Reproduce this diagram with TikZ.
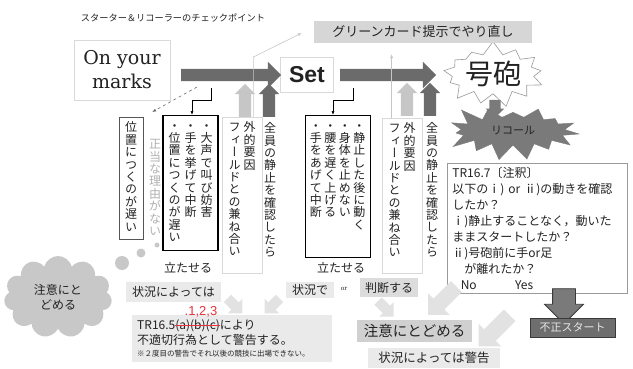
\documentclass[tikz,border=0pt]{standalone}
\usepackage{fontspec}
\usepackage{graphicx}
\setmainfont{Noto Sans CJK JP}
\newfontfamily\vjp[RawFeature=+vert]{Noto Sans CJK JP}
\newfontfamily\slab{DejaVu Serif}
\newfontfamily\helv{Liberation Sans}
\usepackage{xcolor}
\definecolor{ArrowDark}{HTML}{6B6B6B}
\definecolor{ArrowLight}{HTML}{C6C6C6}
\definecolor{PaleArrow}{HTML}{E2E2E2}
\definecolor{BorderLight}{HTML}{D9D9D9}
\definecolor{BorderMid}{HTML}{9A9A9A}
\definecolor{BorderDark}{HTML}{555555}
\definecolor{CardGray}{HTML}{D6D6D6}
\definecolor{NoteGray}{HTML}{EAEAEA}
\definecolor{JudgeGray}{HTML}{DCDCDC}
\definecolor{CautionGray}{HTML}{D0D0D0}
\definecolor{RecallGray}{HTML}{7A7A7A}
\definecolor{CloudGray}{HTML}{C8C8C8}
\definecolor{FoulGray}{HTML}{6E6E6E}
\definecolor{FoulEdge}{HTML}{3A3A3A}
\definecolor{FoulText}{HTML}{E6E6E6}
\definecolor{ReasonGray}{HTML}{B0B0B0}
\definecolor{InkBlack}{HTML}{222222}
\definecolor{MarkRed}{HTML}{E5323B}
\usepackage{tikz}
\usetikzlibrary{shapes.symbols, shapes.arrows, arrows.meta, calc}

% one character per line, for the upright columns
\newcommand\vt[1]{\vtop{\vjp\baselineskip=12.4pt\lineskiplimit=-20pt\lineskip=0pt\vtloop#1\relax}}
\def\vtloop#1{\ifx\relax#1\else\hbox to 12pt{\hss#1\hss}\expandafter\vtloop\fi}
\newcommand\redstrike[1]{\setbox0=\hbox{#1}\copy0\llap{\textcolor{MarkRed}{\rule[0.3em]{\wd0}{1.1pt}}}}

\begin{document}
\begin{tikzpicture}[x=1pt, y=-1pt,
  stagebox/.style={rectangle, draw=BorderLight, line width=0.8pt, fill=white, text=InkBlack},
  fatarrow/.style={single arrow, fill=ArrowDark, inner xsep=0pt, inner ysep=6pt,
                   single arrow head extend=7pt},
  risearrow/.style={single arrow, rotate=90, inner xsep=0pt, inner ysep=6pt,
                    minimum height=33pt, single arrow head extend=4pt},
  palearrow/.style={single arrow, fill=PaleArrow, inner xsep=0pt},
  colbox/.style={rectangle, anchor=north, line width=0.8pt, fill=white, text=InkBlack,
                 inner ysep=4pt, text height=10.5pt, font=\fontsize{12}{12}\selectfont},
  coltext/.style={anchor=north, inner sep=0pt, text height=10.5pt,
                  font=\fontsize{12}{12}\selectfont},
  tagbox/.style={rectangle, inner xsep=6pt, inner ysep=4pt, text=InkBlack,
                 font=\fontsize{12}{12}\selectfont},
  plaintext/.style={inner sep=0pt, text=InkBlack, font=\fontsize{12}{12}\selectfont},
  cardlink/.style={draw=ArrowLight, line width=0.6pt, -{Latex[length=4pt, width=3pt]}},
  bendlink/.style={draw=black, line width=0.7pt, -{Latex[length=4pt, width=3pt]}},
  dashlink/.style={draw=ArrowDark, line width=0.6pt, dashed, -{Latex[length=4pt, width=3pt]}},
]
\useasboundingbox (0,0) rectangle (633,368);

\node[plaintext, font=\fontsize{9.2}{10}\selectfont] (title) at (173,18)
  {スターター＆リコーラーのチェックポイント};

% stages
\node[stagebox, minimum width=96pt, minimum height=60pt, align=center,
      font=\slab\fontsize{19}{24}\selectfont] (marks) at (122,70) {On your\\marks};
\node[stagebox, minimum width=53pt, minimum height=35pt,
      font=\helv\bfseries\fontsize{23}{24}\selectfont] (set) at (307,75) {Set};
\node[starburst, starburst points=13, starburst point height=14pt, random starburst=7,
      draw=BorderMid, fill=white, line width=0.6pt, inner sep=1pt, text=InkBlack,
      minimum width=108pt, minimum height=58pt,
      font=\fontsize{28}{28}\selectfont] (gun) at (493,74) {号砲};
\node[fatarrow, minimum height=100pt] (go1) at (228,75) {};
\node[fatarrow, minimum height=96pt] (go2) at (385,75) {};
\node[rectangle, fill=CardGray, minimum width=218pt, minimum height=22pt, text=InkBlack,
      font=\fontsize{13}{13}\selectfont] (card) at (423,32) {グリーンカード提示でやり直し};

\node[starburst, starburst points=15, starburst point height=18pt, random starburst=23,
      fill=RecallGray, draw=RecallGray, inner sep=1pt, text=InkBlack,
      minimum width=140pt, minimum height=64pt,
      font=\fontsize{11}{11}\selectfont] (recall) at (513,131) {リコール};
\node[single arrow, rotate=-90, fill=RecallGray, inner xsep=0pt, inner ysep=5.5pt,
      minimum height=18pt, single arrow head extend=3.5pt] (gundown) at (495,106) {};

% columns under On your marks
\node[colbox, draw=BorderDark, inner xsep=6pt, text depth=103.5pt] (slowA) at (131,117)
  {\vt{位置につくのが遅い}};
\node[coltext, text=ReasonGray] (reason) at (155,138) {\vt{正当な理由がない}};
\node[colbox, draw=black, line width=1.3pt, inner xsep=5.5pt, text depth=116.5pt] (foulA) at (190.5,115)
  {\vt{・位置につくのが遅い}\hspace{4pt}\vt{・手を挙げて中断}\hspace{4pt}\vt{・大声で叫び妨害}};
\node[colbox, draw=BorderLight, inner xsep=6.5pt, text depth=137.5pt] (fieldA) at (242,117)
  {\vt{フィールドとの兼ね合い}\hspace{3pt}\vt{外的要因}};
\node[coltext, text=InkBlack] (stillA) at (270,122) {\vt{全員の静止を確認したら}};

% columns under Set
\node[colbox, draw=black, line width=1pt, inner xsep=4.75pt, text depth=123.5pt] (foulB) at (337.5,115)
  {\vt{・手をあげて中断}\hspace{2.5pt}\vt{・腰を遅く上げる}\hspace{2.5pt}\vt{・身体を止めない}\hspace{2.5pt}\vt{・静止した後に動く}};
\node[colbox, draw=BorderLight, inner xsep=6.5pt, text depth=136.5pt] (fieldB) at (402,118)
  {\vt{フィールドとの兼ね合い}\hspace{3pt}\vt{外的要因}};
\node[coltext, text=InkBlack] (stillB) at (432,122) {\vt{全員の静止を確認したら}};

% thin links to the green card
\draw[cardlink] ($(fieldA.north east)+(-9,0)$) -- ++(0,-60) -- ($(card.west)+(-12,1)$);
\draw[cardlink] ($(fieldB.north west)+(10,0)$) -- ++(0,-64);

\node[risearrow, fill=ArrowLight] (upA) at (245,103.5) {};
\node[risearrow, fill=ArrowDark] (upB) at (269,103.5) {};
\node[risearrow, fill=ArrowLight] (upC) at (407,102.5) {};
\node[risearrow, fill=ArrowDark] (upD) at (430,102.5) {};

\coordinate (bendA) at (211,88);
\coordinate (bendB) at (353,88);
\coordinate (dashA) at (197,87);
\draw[bendlink] (bendA) -- ++(0,12) -| ($(foulA.north)+(1.5,0)$);
\draw[bendlink] (bendB) -- ++(0,12) -| ($(foulB.north)+(-4.5,0)$);
\draw[dashlink, shorten >=2pt] (dashA) -- ($(slowA.north east)+(7,-4)$);

% TR16.7 note
\node[draw=BorderMid, line width=0.8pt, fill=white, anchor=north west, minimum width=180pt,
      minimum height=130pt, text width=170pt, inner xsep=5pt, align=left, text=InkBlack,
      font=\fontsize{12}{16}\selectfont] (note) at (447,163)
  {TR16.7〔注釈〕\\
   以下のⅰ) or ⅱ)の動きを確認\\
   したか？\\
   ⅰ)静止することなく，動いた\\
   ままスタートしたか？\\
   ⅱ)号砲前に手or足\\
   \hspace*{1em}が離れたか？\\
   \hspace*{0.7em}No\hspace{3.2em}Yes};
\node[single arrow, rotate=-90, fill=RecallGray, draw=FoulEdge, line width=0.8pt, inner xsep=0pt,
      inner ysep=11pt, minimum height=35pt, single arrow head extend=8pt] (yesdown) at (564,300.5) {};

% lower row
\node[plaintext] (standA) at (188,268) {立たせる};
\node[plaintext] (standB) at (341,268) {立たせる};
\node[tagbox, fill=NoteGray, inner xsep=6.5pt] (maybeA) at (173.5,292) {状況によっては};
\node[tagbox, fill=NoteGray, inner ysep=2.5pt] (situ) at (310,290) {状況で};
\node[plaintext, font=\slab\fontsize{6}{6}\selectfont] (orword) at (344,289) {or};
\node[tagbox, fill=JudgeGray, inner xsep=5pt] (judge) at (389,287.5) {判断する};

\foreach \px/\py/\rot/\len/\ext [count=\i] in
  {233/304/-45/21/5, 274/304/-135/21/5, 384/307/-45/22/5,
   445/298/-135/40/7.5, 497/328/-135/44/8}
  \node[palearrow, rotate=\rot, minimum height=\len pt, inner ysep=\ext pt,
        single arrow head extend=\ext pt] (pale\i) at (\px,\py) {};

\node[tagbox, fill=CautionGray, minimum width=115pt, minimum height=22pt,
      font=\fontsize{14.5}{14.5}\selectfont] (caution) at (414.5,331) {注意にとどめる};
\node[tagbox, fill=NoteGray, minimum width=132pt, minimum height=20pt,
      font=\fontsize{12.5}{12.5}\selectfont] (warnmaybe) at (434,358) {状況によっては警告};
\node[rectangle, fill=FoulGray, draw=FoulEdge, line width=0.8pt, minimum width=85pt,
      minimum height=19pt, text=FoulText, font=\fontsize{11}{11}\selectfont] (foul) at (572.5,327.5) {不正スタート};

% TR16.5 warning
\node[fill=NoteGray, anchor=north west, minimum height=47pt, text width=190pt, inner xsep=5pt,
      inner ysep=3pt, align=left, text=InkBlack, font=\fontsize{12}{15}\selectfont] (tr165) at (132,315)
  {TR16.5\redstrike{(a)(b)(c)}により\\
   不適切行為として警告する。\\[-3pt]
   {\fontsize{7.5}{9}\selectfont ※２度目の警告でそれ以後の競技に出場できない。}};
\node[inner sep=0pt, text=MarkRed, font=\helv\fontsize{13}{13}\selectfont] (fix) at (201,312) {.1,2,3};

% cloud
\node[cloud, cloud puffs=11, aspect=1.35, fill=CloudGray, minimum width=108pt, minimum height=82pt,
      align=center, text=InkBlack, font=\fontsize{12}{15}\selectfont] (calm) at (58,297) {注意にと\\どめる};
\foreach \bx/\by/\br in {122/263/7, 141/253/4.5, 157/245/2.5}
  \fill[CloudGray] (\bx,\by) circle[radius=\br pt];
\end{tikzpicture}
\end{document}
